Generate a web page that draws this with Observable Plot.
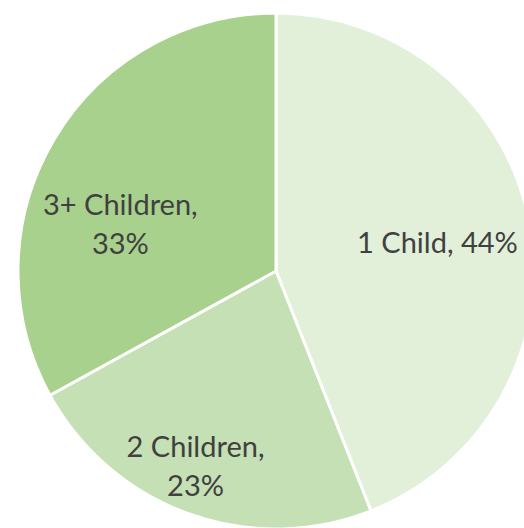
<!DOCTYPE html>
<html>
<head>
<meta charset="utf-8">
<script src="https://cdn.jsdelivr.net/npm/d3@7"></script>
<script src="https://cdn.jsdelivr.net/npm/@observablehq/plot@0.6"></script>
<style>
  html, body { margin: 0; padding: 0; background: #ffffff; }
  #chart svg { display: block; }
</style>
</head>
<body>
<div id="chart"></div>
<script>
// Data
const categories = ["1 Child", "2 Children", "3+ Children"];
const shares = [44, 23, 33];
const labels = ["1 Child, 44%", "2 Children,\n23%", "3+ Children,\n33%"];
const colors = ["#e2f0d9", "#c5e0b4", "#a9d18e"];

// Layout settings (not data)
const W = 524, H = 528;
const CX = 276, CY = 271, R = 258;
const labelRadius = [0.635, 0.81, 0.635];
const labelAngleShift = [0, 3, -13]; // degrees

const table = categories.map((c, i) => ({category: c, share: shares[i], label: labels[i]}));
const pie = d3.pie().sort(null).value(d => d.share)(table);
table.forEach((d, i) => {
  const mid = (pie[i].startAngle + pie[i].endAngle) / 2 + labelAngleShift[i] * Math.PI / 180;
  d.lx = Math.sin(mid) * labelRadius[i];
  d.ly = Math.cos(mid) * labelRadius[i];
});

const color = d3.scaleOrdinal(categories, colors);

function pieMark(...args) {
  const scales = args.find(a => a && !Array.isArray(a) && typeof a.x === "function" && typeof a.y === "function");
  const x0 = scales.x(0), y0 = scales.y(0);
  const r = Math.abs(scales.x(1) - scales.x(0));
  const arc = d3.arc().innerRadius(0).outerRadius(r);
  const g = d3.create("svg:g").attr("transform", `translate(${x0},${y0})`);
  g.selectAll("path")
    .data(pie)
    .join("path")
    .attr("d", arc)
    .attr("fill", d => color(d.data.category))
    .attr("stroke", "#ffffff")
    .attr("stroke-width", 3)
    .attr("stroke-linejoin", "round");
  return g.node();
}

const chart = Plot.plot({
  width: W,
  height: H,
  margin: 0,
  style: {background: "#ffffff", overflow: "visible"},
  x: {domain: [-1, 1], range: [CX - R, CX + R], axis: null},
  y: {domain: [-1, 1], range: [CY + R, CY - R], axis: null},
  marks: [
    pieMark,
    Plot.text(table, {
      x: "lx",
      y: "ly",
      text: "label",
      fill: "#404040",
      fontSize: 29,
      fontFamily: "Lato, 'Open Sans', sans-serif",
      lineHeight: 1.34,
      textAnchor: "middle"
    })
  ]
});

document.getElementById("chart").appendChild(chart);
</script>
</body>
</html>
